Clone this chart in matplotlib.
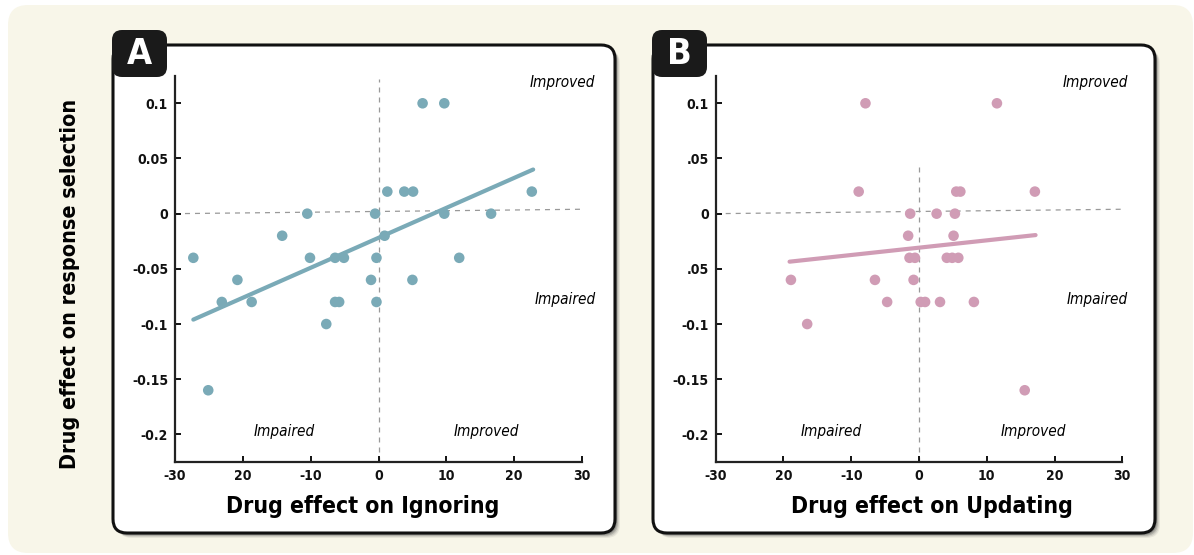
import matplotlib
matplotlib.use("Agg")
import matplotlib.pyplot as plt
from matplotlib.patches import FancyBboxPatch

plt.rcParams['font.family'] = ['DejaVu Sans']
plt.rcParams['font.stretch'] = 'condensed'

# drug effect on ignoring (x) vs response selection (y)
ign_x = [6.5, 9.7, 1.3, 3.8, 5.1, 22.6, -10.5, -0.5, 9.7, 16.6, -14.2, 0.9,
         -27.3, -10.1, -6.4, -5.1, -0.3, 11.9, -20.8, -1.1, 5.0, -23.1, -18.7,
         -6.4, -5.8, -0.3, -7.7, -25.1]
ign_y = [0.1, 0.1, 0.02, 0.02, 0.02, 0.02, 0, 0, 0, 0, -0.02, -0.02,
         -0.04, -0.04, -0.04, -0.04, -0.04, -0.04, -0.06, -0.06, -0.06, -0.08, -0.08,
         -0.08, -0.08, -0.08, -0.1, -0.16]
ign_fit_x = [-27.3, 22.8]
ign_fit_y = [-0.096, 0.040]

# drug effect on updating (x) vs response selection (y)
upd_x = [-7.9, 11.5, -8.9, 5.5, 6.1, 17.1, -1.3, 2.6, 5.3, -1.6, 5.1,
         -1.4, -0.6, 4.1, 4.9, 5.8, -18.9, -6.5, -0.8, -4.7, 0.25, 0.9, 3.1, 8.1,
         -16.5, 15.6]
upd_y = [0.1, 0.1, 0.02, 0.02, 0.02, 0.02, 0, 0, 0, -0.02, -0.02,
         -0.04, -0.04, -0.04, -0.04, -0.04, -0.06, -0.06, -0.06, -0.08, -0.08, -0.08, -0.08, -0.08,
         -0.1, -0.16]
upd_fit_x = [-19.1, 17.2]
upd_fit_y = [-0.0435, -0.0194]

xticks = [-30, -20, -10, 0, 10, 20, 30]
xtick_labels = ['-30', '20', '-10', '0', '10', '20', '30']
yticks = [0.1, 0.05, 0, -0.05, -0.1, -0.15, -0.2]
ytick_labels_a = ['0.1', '0.05', '0', '-0.05', '-0.1', '-0.15', '-0.2']
ytick_labels_b = ['0.1', '.05', '0', '.05', '-0.1', '-0.15', '-0.2']

W, H = 1194, 555
fig = plt.figure(figsize=(W / 100, H / 100), dpi=100)
fig.patch.set_facecolor('white')

# background layer in pixel units
bg = fig.add_axes([0, 0, 1, 1])
bg.set_xlim(0, W)
bg.set_ylim(H, 0)
bg.axis('off')

cream = '#f8f6e9'
bg.add_patch(FancyBboxPatch((8, 5), 1185, 548, boxstyle='round,pad=0,rounding_size=20',
                            fc=cream, ec='none'))

def panel_box(x0, y0, x1, y1, letter):
    # soft shadow
    for off, a in [(5, 0.10), (4, 0.15), (3, 0.25), (2, 0.35)]:
        bg.add_patch(FancyBboxPatch((x0 + off, y0 + off), x1 - x0, y1 - y0,
                                    boxstyle='round,pad=0,rounding_size=14',
                                    fc='#555555', ec='none', alpha=a))
    bg.add_patch(FancyBboxPatch((x0, y0), x1 - x0, y1 - y0,
                                boxstyle='round,pad=0,rounding_size=14',
                                fc='white', ec='#111111', lw=2.2))
    bg.add_patch(FancyBboxPatch((x0 - 1, 30), 55, 47,
                                boxstyle='round,pad=0,rounding_size=10',
                                fc='#1a1a1a', ec='none'))
    bg.text(x0 + 26, 54, letter, color='white', fontsize=26, fontweight='bold',
            ha='center', va='center')

panel_box(113, 45, 615, 533, 'A')
panel_box(653, 45, 1155, 533, 'B')

bg.text(70, 284, 'Drug effect on response selection', rotation=90, fontsize=15.5,
        fontweight='bold', ha='center', va='center')


def scatter_panel(rect, xs, ys, fx, fy, color, ylabels, xlabel, label_x, vtop, right_x):
    ax = fig.add_axes(rect)
    ax.set_facecolor('none')
    ax.plot([-30, 30], [0, 0.004], ls=(0, (4, 4)), color='#999999', lw=0.9, zorder=1)
    ax.plot([0, 0], [-0.225, vtop], ls=(0, (4, 4)), color='#999999', lw=0.9, zorder=1)
    ax.scatter(xs, ys, s=58, color=color, edgecolors='none', zorder=3)
    ax.plot(fx, fy, color=color, lw=3, solid_capstyle='round', zorder=2)
    ax.set_xlim(-30, 30)
    ax.set_ylim(-0.225, 0.125)
    ax.set_xticks(xticks)
    ax.set_xticklabels(xtick_labels)
    ax.set_yticks(yticks)
    ax.set_yticklabels(ylabels)
    for s in ['top', 'right']:
        ax.spines[s].set_visible(False)
    for s in ['left', 'bottom']:
        ax.spines[s].set_linewidth(1.6)
        ax.spines[s].set_color('#222222')
    ax.tick_params(direction='in', length=4, width=1.4, pad=5, labelsize=10, colors='#111111')
    for lab in ax.get_xticklabels() + ax.get_yticklabels():
        lab.set_fontweight('bold')
    ax.set_xlabel(xlabel, fontsize=16.5, fontweight='bold')
    ax.xaxis.set_label_coords(label_x, -0.085)
    ax.text(right_x, 0.119, 'Improved', style='italic', fontsize=11, ha='right', va='center')
    ax.text(right_x, -0.078, 'Impaired', style='italic', fontsize=11, ha='right', va='center')
    return ax

axA = scatter_panel([175 / W, 1 - 462 / H, 407 / W, 386.3 / H], ign_x, ign_y,
                    ign_fit_x, ign_fit_y, '#7aaab7', ytick_labels_a,
                    'Drug effect on Ignoring', 0.462, 0.122, 32.0)
axA.text(-13.9, -0.197, 'Impaired', style='italic', fontsize=11, ha='center', va='center')
axA.text(15.9, -0.197, 'Improved', style='italic', fontsize=11, ha='center', va='center')

axB = scatter_panel([715.7 / W, 1 - 462 / H, 406.6 / W, 386.3 / H], upd_x, upd_y,
                    upd_fit_x, upd_fit_y, '#d09cb5', ytick_labels_b,
                    'Drug effect on Updating', 0.533, 0.046, 30.8)
axB.text(-13.0, -0.197, 'Impaired', style='italic', fontsize=11, ha='center', va='center')
axB.text(16.9, -0.197, 'Improved', style='italic', fontsize=11, ha='center', va='center')

fig.savefig('out.png', dpi=100)
